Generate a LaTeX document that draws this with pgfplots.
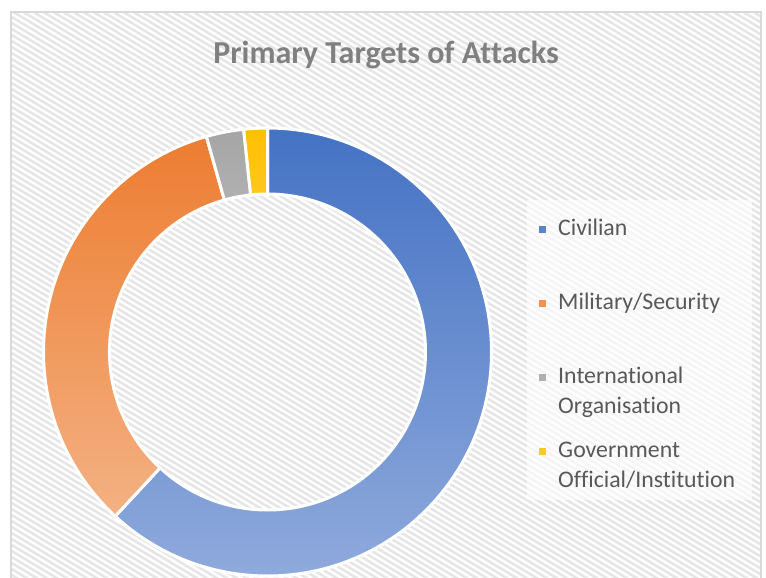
\documentclass[border=0pt]{standalone}
\usepackage{fontspec}
\setmainfont[Ligatures=NoCommon]{Carlito}
\usepackage{pgfplots}
\usepackage{pgfplotstable}
\pgfplotsset{compat=1.18}

\definecolor{civTop}{HTML}{4472C4}
\definecolor{civBot}{HTML}{8FAADC}
\definecolor{milTop}{HTML}{ED7D31}
\definecolor{milBot}{HTML}{F4B183}
\definecolor{intTop}{HTML}{A5A5A5}
\definecolor{intBot}{HTML}{C9C9C9}
\definecolor{govTop}{HTML}{FFC000}
\definecolor{govBot}{HTML}{FFD966}
\definecolor{hatch}{HTML}{E6E6E6}
\definecolor{frame}{HTML}{D9D9D9}
\definecolor{titlegray}{HTML}{808080}
\definecolor{textgray}{HTML}{595959}

% share of attacks per target (percent)
\pgfplotstableread{
target value
Civilian 61.9
Military 33.7
International 2.7
Government 1.7
}\targets

% legend text: two lines, fixed row height so every entry takes the same room
\newcommand{\lentry}[2]{\smash{\begin{tabular}[t]{@{}l@{}}#1\\#2\end{tabular}}\rule[-9pt]{0pt}{30pt}}

\begin{document}
\begin{tikzpicture}
% cumulative angles, clockwise from 12 o'clock
\pgfplotstablegetelem{0}{value}\of\targets \let\vA\pgfplotsretval
\pgfplotstablegetelem{1}{value}\of\targets \let\vB\pgfplotsretval
\pgfplotstablegetelem{2}{value}\of\targets \let\vC\pgfplotsretval
\pgfplotstablegetelem{3}{value}\of\targets \let\vD\pgfplotsretval
\pgfmathsetmacro\aA{90}
\pgfmathsetmacro\aB{\aA-3.6*\vA}
\pgfmathsetmacro\aC{\aB-3.6*\vB}
\pgfmathsetmacro\aD{\aC-3.6*\vC}
\pgfmathsetmacro\aE{\aD-3.6*\vD}

% chart area: frame and hatched fill
\begin{scope}
  \clip (11pt,566pt) rectangle (761pt,-6pt);
  \fill[white] (11pt,566pt) rectangle (761pt,-6pt);
  \foreach \x in {-1000,-990,...,780}
    \draw[hatch, line width=2.5pt] (\x pt,580pt) -- ++(1000pt,-600pt);
\end{scope}
\draw[frame, line width=1.5pt] (11pt,566pt) rectangle (761pt,-6pt);
\fill[white, opacity=0.6] (527pt,378pt) rectangle (752pt,78pt);

\begin{axis}[
  at={(0pt,0pt)}, anchor=south west,
  scale only axis, width=766pt, height=578pt,
  xmin=0, xmax=766, ymin=0, ymax=578,
  y dir=reverse, hide axis, clip=false,
  title={Primary Targets of Attacks},
  title style={at={(0.504,0.879)}, anchor=base, inner sep=0pt,
    font=\fontsize{32}{36}\selectfont\bfseries, text=titlegray},
  legend style={at={(0.7037,0.6298)}, anchor=north west,
    draw=none, fill=none, inner sep=0pt, row sep=51.5pt, column sep=12pt,
    font=\fontsize{23.8}{30}\selectfont, text=textgray,
    cells={anchor=base west}, nodes={inner sep=0pt}},
  legend image code/.code={\fill[#1, draw=none] (0pt,2.5pt) rectangle (7pt,9.5pt);},
]
\newcommand{\ringslice}[4]{%
  \path[top color=#3, bottom color=#4, draw=white, line width=3pt]
    (axis cs:267.5,352) ++(#1:224pt) arc[start angle=#1, end angle=#2, radius=224pt]
    -- ++(#2:-66pt) arc[start angle=#2, end angle=#1, radius=158pt] -- cycle;}
\ringslice{\aA}{\aB}{civTop}{civBot}
\ringslice{\aB}{\aC}{milTop}{milBot}
\ringslice{\aC}{\aD}{intTop}{intBot}
\ringslice{\aD}{\aE}{govTop}{govBot}

\addlegendimage{fill=civTop!70!civBot}
\addlegendentry{\lentry{Civilian}{\mbox{}}}
\addlegendimage{fill=milTop!60!milBot}
\addlegendentry{\lentry{Military/Security}{\mbox{}}}
\addlegendimage{fill=intTop!70!intBot}
\addlegendentry{\lentry{International}{Organisation}}
\addlegendimage{fill=govTop!60!govBot}
\addlegendentry{\lentry{Government}{Official/Institution}}
\end{axis}
\pgfresetboundingbox
\useasboundingbox (0pt,0pt) rectangle (766pt,578pt);
\end{tikzpicture}
\end{document}
